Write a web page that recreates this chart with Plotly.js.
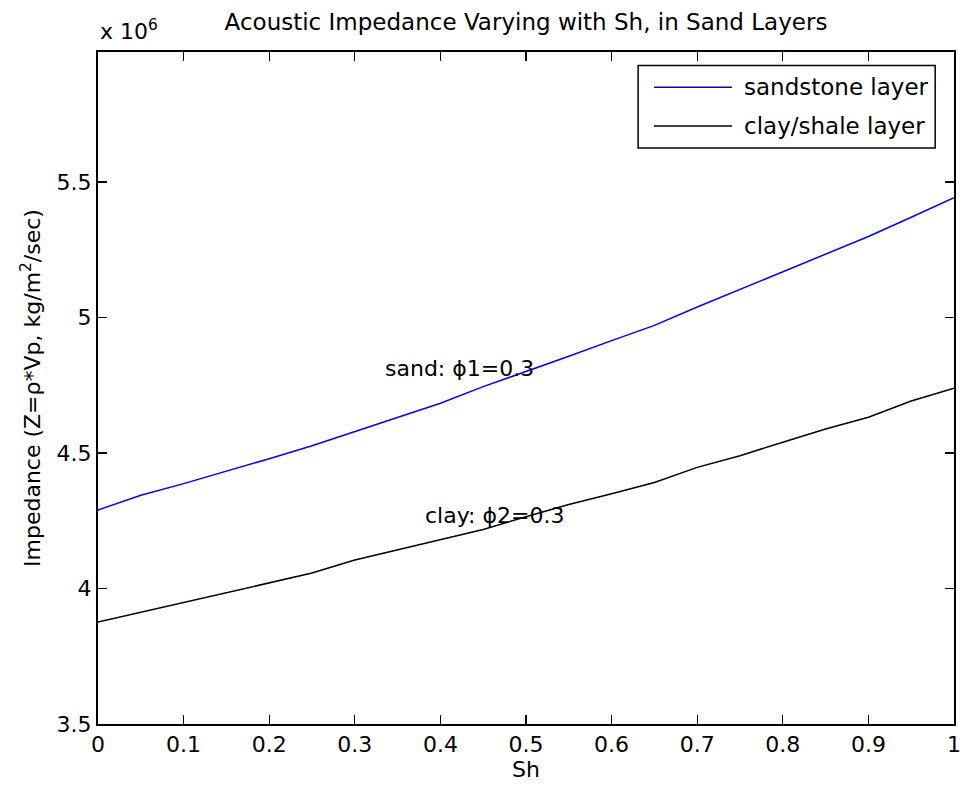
<!DOCTYPE html>
<html>
<head>
<meta charset="utf-8">
<script src="https://cdn.plot.ly/plotly-3.0.1.min.js"></script>
<style>html,body{margin:0;padding:0;background:#fff;}</style>
</head>
<body>
<div id="chart" style="width:962px;height:797px;"></div>
<script>
// Sh (hydrate saturation)
const sh = [0, 0.05, 0.10, 0.15, 0.20, 0.25, 0.30, 0.35, 0.40, 0.45, 0.50,
            0.55, 0.60, 0.65, 0.70, 0.75, 0.80, 0.85, 0.90, 0.95, 1.00];
// Impedance, in units of 10^6 kg/m^2/sec
const sandstone = [4.290, 4.344, 4.387, 4.432, 4.479, 4.527, 4.580, 4.632, 4.684, 4.745, 4.800,
                   4.857, 4.915, 4.971, 5.039, 5.104, 5.169, 5.234, 5.299, 5.370, 5.442];
const clayShale = [3.876, 3.912, 3.949, 3.986, 4.020, 4.057, 4.105, 4.143, 4.182, 4.218, 4.265,
                   4.310, 4.350, 4.391, 4.447, 4.490, 4.540, 4.589, 4.632, 4.692, 4.739];
const seriesNames = ['sandstone layer', 'clay/shale layer'];
const seriesColors = ['#0000ff', '#000000'];
const xTickVals = [0, 0.1, 0.2, 0.3, 0.4, 0.5, 0.6, 0.7, 0.8, 0.9, 1];
const xTickText = ['0', '0.1', '0.2', '0.3', '0.4', '0.5', '0.6', '0.7', '0.8', '0.9', '1'];
const yTickVals = [3.5, 4, 4.5, 5, 5.5];
const yTickText = ['3.5', '4', '4.5', '5', '5.5'];
const textLabels = ['sand: \u03D51=0.3', 'clay: \u03D52=0.3'];
const textLabelX = [0.333, 0.38];
const textLabelY = [4.812, 4.268];

const FONT = 'DejaVu Sans, Arial, sans-serif';
const FS = 22;

const traces = [
  {x: sh, y: sandstone, type: 'scatter', mode: 'lines', name: seriesNames[0],
   line: {color: seriesColors[0], width: 1.5}},
  {x: sh, y: clayShale, type: 'scatter', mode: 'lines', name: seriesNames[1],
   line: {color: seriesColors[1], width: 1.5}}
];

// Manual MATLAB-style legend (paper coordinates)
const legX0 = 0.631, legX1 = 0.978, legY0 = 0.857, legY1 = 0.980;
const legRowY = [0.9475, 0.890];
const shapes = [
  {type: 'rect', xref: 'paper', yref: 'paper', x0: legX0, x1: legX1, y0: legY0, y1: legY1,
   line: {color: '#000', width: 1.5}, fillcolor: '#fff', layer: 'above'}
];
const annotations = [];
seriesNames.forEach((nm, i) => {
  shapes.push({type: 'line', xref: 'paper', yref: 'paper', x0: 0.6495, x1: 0.7407,
               y0: legRowY[i], y1: legRowY[i], line: {color: seriesColors[i], width: 1.5}, layer: 'above'});
  annotations.push({xref: 'paper', yref: 'paper', x: 0.7523, y: legRowY[i], xanchor: 'left', yanchor: 'middle',
                    text: nm, showarrow: false, font: {family: FONT, size: FS + 1, color: '#000'}});
});
textLabels.forEach((t, i) => {
  annotations.push({xref: 'x', yref: 'y', x: textLabelX[i], y: textLabelY[i], xanchor: 'left', yanchor: 'middle',
                    text: t, showarrow: false, font: {family: FONT, size: FS, color: '#000'}});
});
annotations.push({xref: 'paper', yref: 'paper', x: 0, y: 1, xanchor: 'left', yanchor: 'bottom', yshift: 6,
                  text: 'x 10<sup>6</sup>', showarrow: false, font: {family: FONT, size: FS, color: '#000'}});

const axisCommon = {
  showline: true, linecolor: '#000', linewidth: 2, mirror: 'ticks',
  ticks: 'inside', ticklen: 9, tickwidth: 1.3, tickcolor: '#000',
  showgrid: false, zeroline: false, automargin: false,
  tickfont: {family: FONT, size: FS, color: '#000'}
};

const layout = {
  width: 962, height: 797,
  margin: {l: 98, r: 8, t: 52, b: 73},
  paper_bgcolor: '#fff', plot_bgcolor: '#fff',
  showlegend: false,
  title: {text: 'Acoustic Impedance Varying with Sh, in Sand Layers',
          font: {family: FONT, size: FS + 1, color: '#000'},
          xref: 'paper', x: 0.5, xanchor: 'center', yref: 'container', y: 1 - 22/797, yanchor: 'middle'},
  xaxis: Object.assign({}, axisCommon, {
    range: [0, 1], tickmode: 'array', tickvals: xTickVals, ticktext: xTickText,
    title: {text: 'Sh', font: {family: FONT, size: FS, color: '#000'}, standoff: 4}
  }),
  yaxis: Object.assign({}, axisCommon, {
    range: [3.5, 5.98], tickmode: 'array', tickvals: yTickVals, ticktext: yTickText,
    title: {text: 'Impedance (Z=\u03C1*Vp, kg/m<sup>2</sup>/sec)', font: {family: FONT, size: FS, color: '#000'}, standoff: 10}
  }),
  shapes: shapes,
  annotations: annotations
};

Plotly.newPlot('chart', traces, layout, {staticPlot: true, displayModeBar: false});
</script>
</body>
</html>
